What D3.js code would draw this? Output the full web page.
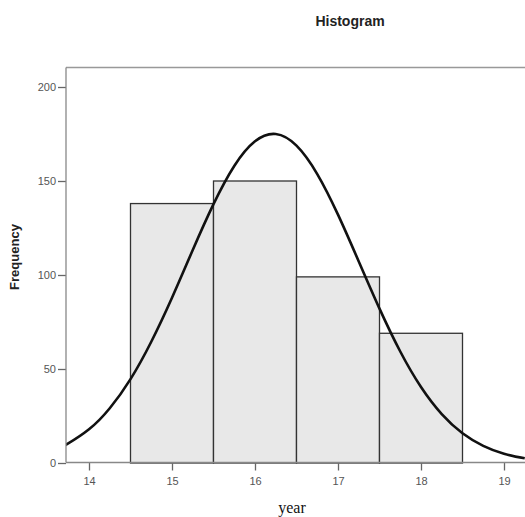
<!DOCTYPE html>
<html>
<head>
<meta charset="utf-8">
<script src="https://d3js.org/d3.v7.min.js"></script>
<style>
  body { margin: 0; background: #fff; }
  svg { display: block; }
</style>
</head>
<body>
<script>
// histogram bins (year) and counts
var binStarts = [14.5, 15.5, 16.5, 17.5];
var binWidth = 1;
var counts = [138, 150, 99, 69];

// normal curve
var curveX = [13.7, 13.75, 14, 14.25, 14.5, 14.75, 15, 15.25, 15.5, 15.75, 16, 16.25,
              16.5, 16.75, 17, 17.25, 17.5, 17.75, 18, 18.25, 18.5, 18.75, 19, 19.25];
var curveY = [9.3, 10.4, 17.9, 29.1, 44.6, 64.5, 87.9, 113.3, 137.7, 158, 171.1, 175,
              168.8, 153.7, 132.1, 107.2, 82.1, 59.3, 40.4, 26, 15.8, 9.1, 4.9, 2.5];

var xTicks = [14, 15, 16, 17, 18, 19];
var yTicks = [0, 50, 100, 150, 200];

var W = 525, H = 517;
var svg = d3.select("body").append("svg")
    .attr("width", W)
    .attr("height", H);

var x = d3.scaleLinear().domain([14, 19]).range([89, 504]);
var y = d3.scaleLinear().domain([0, 200]).range([463, 87]);

var plotLeft = 66, plotTop = 67.5, plotBottom = 462.5;

// frame top
svg.append("line")
    .attr("x1", plotLeft).attr("x2", W + 5)
    .attr("y1", plotTop).attr("y2", plotTop)
    .attr("stroke", "#999").attr("stroke-width", 1.3);

// bars
svg.selectAll("rect.bar")
  .data(counts)
  .enter()
  .append("rect")
    .attr("class", "bar")
    .attr("x", function(d, i) { return x(binStarts[i]); })
    .attr("width", function(d, i) { return x(binStarts[i] + binWidth) - x(binStarts[i]); })
    .attr("y", function(d) { return y(d); })
    .attr("height", function(d) { return y(0) - y(d); })
    .attr("fill", "#e8e8e8")
    .attr("stroke", "#333")
    .attr("stroke-width", 1.3);

// normal curve
var line = d3.line()
    .x(function(d, i) { return x(curveX[i]); })
    .y(function(d) { return y(d); })
    .curve(d3.curveNatural);

svg.append("path")
    .datum(curveY)
    .attr("d", line)
    .attr("fill", "none")
    .attr("stroke", "#111")
    .attr("stroke-width", 2.6);

// cover anything left of the frame
svg.append("rect")
    .attr("x", 0).attr("y", 0)
    .attr("width", plotLeft).attr("height", H)
    .attr("fill", "#fff");

// y axis
var yAxis = d3.axisLeft(y).tickValues(yTicks).tickSize(8).tickPadding(2);
var gy = svg.append("g")
    .attr("transform", "translate(" + plotLeft + ",0)")
    .call(yAxis);
gy.select(".domain").remove();
gy.append("line")
    .attr("x1", 0).attr("x2", 0)
    .attr("y1", plotTop).attr("y2", plotBottom)
    .attr("stroke", "#888").attr("stroke-width", 1.3);

// x axis
var xAxis = d3.axisBottom(x).tickValues(xTicks).tickFormat(d3.format("d"))
    .tickSize(8).tickPadding(7);
var gx = svg.append("g")
    .attr("transform", "translate(0," + plotBottom + ")")
    .call(xAxis);
gx.select(".domain").remove();
gx.append("line")
    .attr("x1", plotLeft).attr("x2", W + 5)
    .attr("y1", 0).attr("y2", 0)
    .attr("stroke", "#888").attr("stroke-width", 1.3);

svg.selectAll(".tick line").attr("stroke", "#666").attr("stroke-width", 1.3);
svg.selectAll(".tick text")
    .attr("fill", "#555")
    .style("font-family", "Liberation Sans, Arial, sans-serif")
    .style("font-size", "11px");

// titles
svg.append("text")
    .attr("x", 350).attr("y", 26)
    .attr("text-anchor", "middle")
    .style("font-family", "Liberation Sans, Arial, sans-serif")
    .style("font-size", "14px")
    .style("font-weight", "bold")
    .attr("fill", "#222")
    .text("Histogram");

svg.append("text")
    .attr("transform", "translate(19,257) rotate(-90)")
    .attr("text-anchor", "middle")
    .style("font-family", "Liberation Sans, Arial, sans-serif")
    .style("font-size", "13px")
    .style("font-weight", "bold")
    .attr("fill", "#222")
    .text("Frequency");

svg.append("text")
    .attr("x", 292).attr("y", 513)
    .attr("text-anchor", "middle")
    .style("font-family", "Liberation Serif, Times New Roman, serif")
    .style("font-size", "16px")
    .attr("fill", "#111")
    .text("year");
</script>
</body>
</html>
